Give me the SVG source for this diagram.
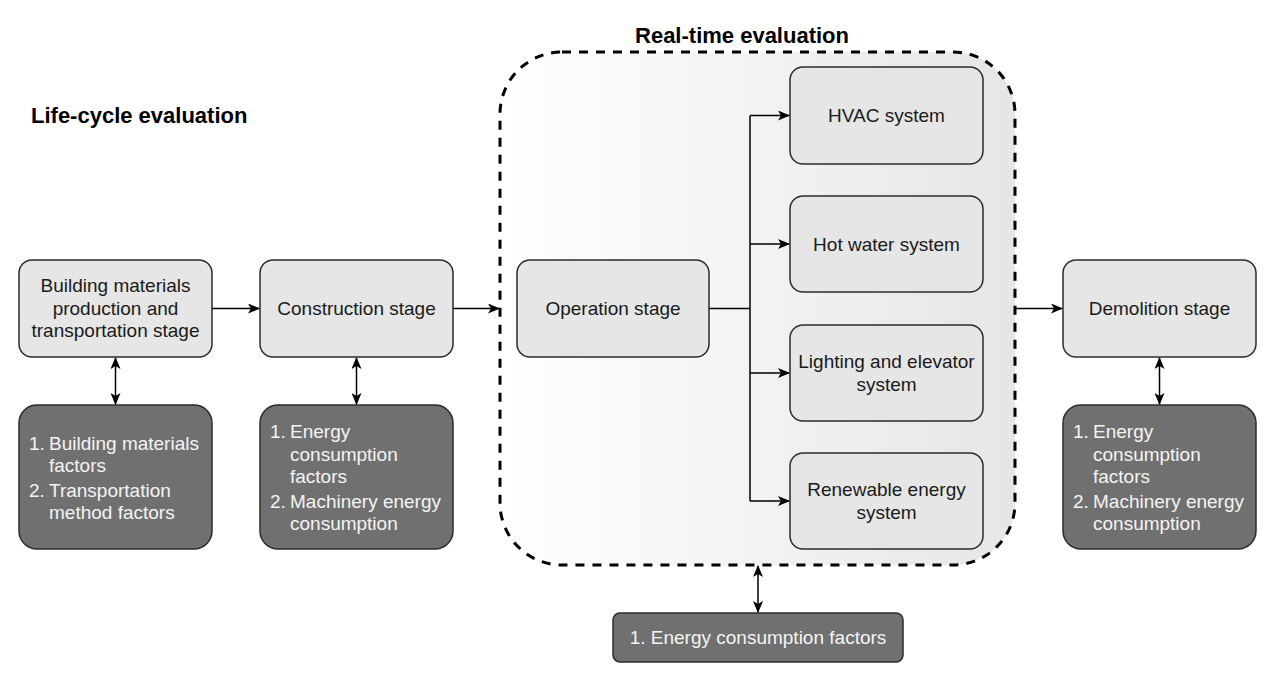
<svg xmlns="http://www.w3.org/2000/svg" width="1270" height="676" viewBox="0 0 1270 676">
<defs>
<linearGradient id="cg" x1="0" y1="0" x2="1" y2="0">
<stop offset="0" stop-color="#ffffff"/>
<stop offset="1" stop-color="#e6e6e6"/>
</linearGradient>
<marker id="ah" viewBox="0 0 12 10" refX="11" refY="5" markerWidth="12" markerHeight="10" markerUnits="userSpaceOnUse" orient="auto-start-reverse">
<path d="M0,0 L12,5 L0,10 L3,5 Z" fill="#000"/>
</marker>
<style>
.lt{fill:#e6e6e6;stroke:#2b2b2b;stroke-width:1.5}
.dk{fill:#707070;stroke:#2b2b2b;stroke-width:1.5}
.tl{font-family:"Liberation Sans",Arial,sans-serif;font-size:19px;fill:#1a1a1a;text-anchor:middle}
.td{font-family:"Liberation Sans",Arial,sans-serif;font-size:19px;fill:#f4f4f4}
.ttl{font-family:"Liberation Sans",Arial,sans-serif;font-size:22px;font-weight:bold;fill:#000}
.c{fill:none;stroke:#000;stroke-width:1.5}
</style>
</defs>
<rect width="1270" height="676" fill="#fff"/>
<text class="ttl" x="31" y="123">Life-cycle evaluation</text>
<g id="container">
<rect x="500" y="52" width="515" height="513" rx="62" fill="url(#cg)" stroke="#000" stroke-width="3" stroke-dasharray="9 8"/>
<text class="ttl" x="742" y="43" text-anchor="middle">Real-time evaluation</text>
</g>
<g id="n-materials">
<rect class="lt" x="19" y="260" width="193" height="97" rx="13"/>
<text class="tl" x="115.5" y="292">Building materials</text>
<text class="tl" x="115.5" y="314.5">production and</text>
<text class="tl" x="115.5" y="337">transportation stage</text>
</g>
<g id="n-materials-f">
<rect class="dk" x="19" y="405" width="193" height="144" rx="18"/>
<text class="td" x="29" y="450">1.</text><text class="td" x="49" y="450">Building materials</text>
<text class="td" x="49" y="472">factors</text>
<text class="td" x="29" y="497">2.</text><text class="td" x="49" y="497">Transportation</text>
<text class="td" x="49" y="519">method factors</text>
</g>
<g id="n-construction">
<rect class="lt" x="260" y="260" width="193" height="97" rx="13"/>
<text class="tl" x="356.5" y="315">Construction stage</text>
</g>
<g id="n-construction-f">
<rect class="dk" x="260" y="405" width="193" height="144" rx="18"/>
<text class="td" x="270" y="438">1.</text><text class="td" x="290" y="438">Energy</text>
<text class="td" x="290" y="461">consumption</text>
<text class="td" x="290" y="483">factors</text>
<text class="td" x="270" y="508">2.</text><text class="td" x="290" y="508">Machinery energy</text>
<text class="td" x="290" y="530">consumption</text>
</g>
<g id="n-operation">
<rect class="lt" x="517" y="260" width="192" height="97" rx="13"/>
<text class="tl" x="613" y="315">Operation stage</text>
</g>
<g id="n-hvac">
<rect class="lt" x="790" y="67" width="193" height="97" rx="13"/>
<text class="tl" x="886.5" y="122">HVAC system</text>
</g>
<g id="n-hotwater">
<rect class="lt" x="790" y="196" width="193" height="96" rx="13"/>
<text class="tl" x="886.5" y="251">Hot water system</text>
</g>
<g id="n-lighting">
<rect class="lt" x="790" y="325" width="193" height="96" rx="13"/>
<text class="tl" x="886.5" y="368">Lighting and elevator</text>
<text class="tl" x="886.5" y="391">system</text>
</g>
<g id="n-renewable">
<rect class="lt" x="790" y="453" width="193" height="96" rx="13"/>
<text class="tl" x="886.5" y="496">Renewable energy</text>
<text class="tl" x="886.5" y="519">system</text>
</g>
<g id="n-demolition">
<rect class="lt" x="1063" y="260" width="193" height="97" rx="13"/>
<text class="tl" x="1159.5" y="315">Demolition stage</text>
</g>
<g id="n-demolition-f">
<rect class="dk" x="1063" y="405" width="193" height="144" rx="18"/>
<text class="td" x="1073" y="438">1.</text><text class="td" x="1093" y="438">Energy</text>
<text class="td" x="1093" y="461">consumption</text>
<text class="td" x="1093" y="483">factors</text>
<text class="td" x="1073" y="508">2.</text><text class="td" x="1093" y="508">Machinery energy</text>
<text class="td" x="1093" y="530">consumption</text>
</g>
<g id="n-realtime-f">
<rect class="dk" x="613" y="613" width="290" height="49" rx="7"/>
<text class="td" x="758" y="644" text-anchor="middle">1. Energy consumption factors</text>
</g>
<g id="connectors">
<path class="c" d="M212,308.5 H259" marker-end="url(#ah)"/>
<path class="c" d="M453,308.5 H499" marker-end="url(#ah)"/>
<path class="c" d="M1015,308.5 H1062" marker-end="url(#ah)"/>
<path class="c" d="M709,308.5 H750" stroke-width="2"/>
<path class="c" d="M750,115.5 V501"/>
<path class="c" d="M750,115.5 H789" marker-end="url(#ah)"/>
<path class="c" d="M750,244 H789" marker-end="url(#ah)"/>
<path class="c" d="M750,373 H789" marker-end="url(#ah)"/>
<path class="c" d="M750,501 H789" marker-end="url(#ah)"/>
<path class="c" d="M115.5,358 V404" marker-start="url(#ah)" marker-end="url(#ah)"/>
<path class="c" d="M356.5,358 V404" marker-start="url(#ah)" marker-end="url(#ah)"/>
<path class="c" d="M1159.5,358 V404" marker-start="url(#ah)" marker-end="url(#ah)"/>
<path class="c" d="M758,566 V612" marker-start="url(#ah)" marker-end="url(#ah)"/>
</g>
</svg>
